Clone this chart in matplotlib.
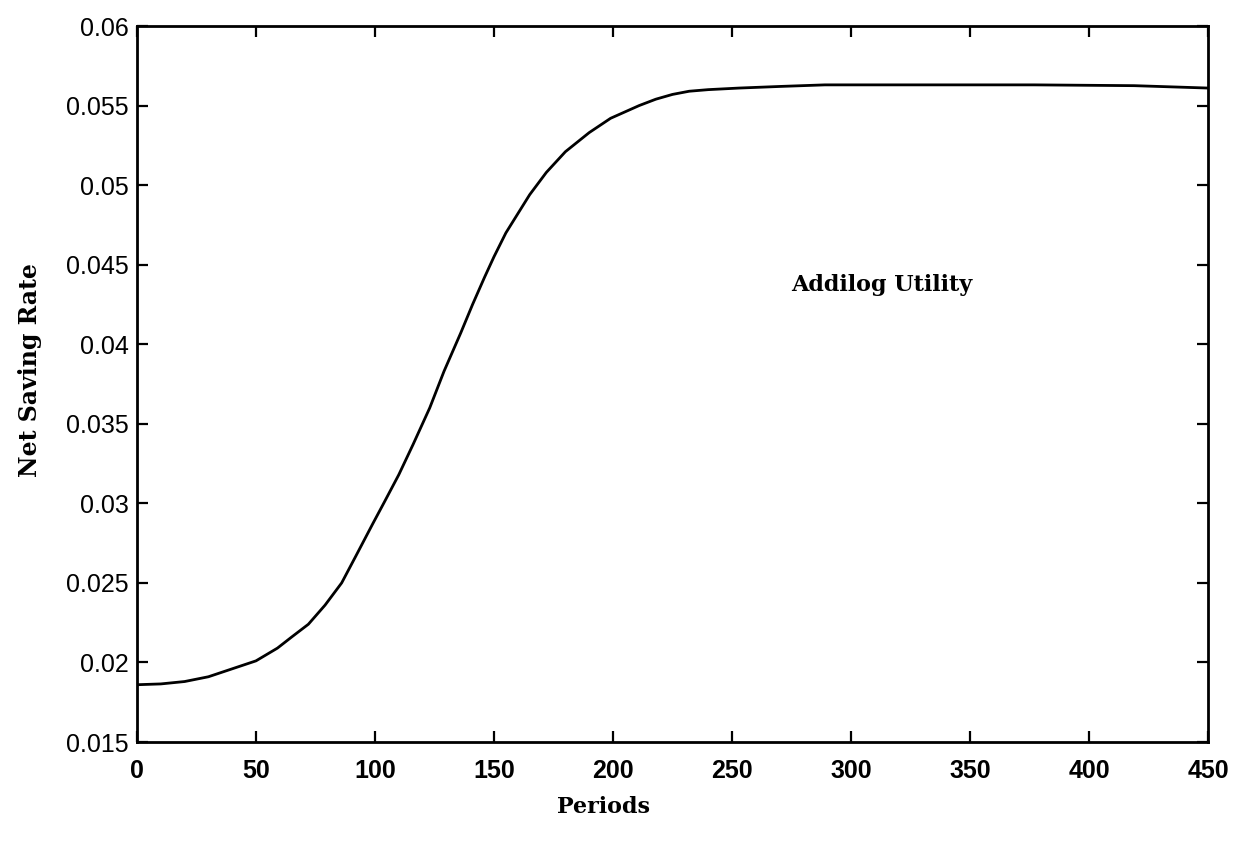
import matplotlib
matplotlib.use("Agg")
import matplotlib.pyplot as plt

# Data
periods = [0, 10, 20, 30, 38, 50, 59, 65, 72, 79, 86, 92, 99, 104, 110, 116,
           123, 129, 136, 141, 146, 150, 155, 160, 165, 172, 180, 190, 199,
           205, 211, 218, 225, 232, 240, 253, 270, 289, 339, 377, 419, 450]
saving_rate = [0.0186, 0.01865, 0.0188, 0.0191, 0.0195, 0.0201, 0.0209, 0.0216,
               0.0224, 0.0236, 0.0250, 0.0267, 0.0287, 0.0301, 0.0318, 0.0337,
               0.0360, 0.0383, 0.0407, 0.0425, 0.0442, 0.0455, 0.0470, 0.0482,
               0.0494, 0.0508, 0.0521, 0.0533, 0.0542, 0.0546, 0.0550, 0.0554,
               0.0557, 0.0559, 0.0560, 0.0561, 0.0562, 0.0563, 0.0563, 0.0563,
               0.05625, 0.0561]

x_ticks = [0, 50, 100, 150, 200, 250, 300, 350, 400, 450]
y_ticks = [0.015, 0.02, 0.025, 0.03, 0.035, 0.04, 0.045, 0.05, 0.055, 0.06]
y_tick_labels = ["0.015", "0.02", "0.025", "0.03", "0.035", "0.04",
                 "0.045", "0.05", "0.055", "0.06"]

fig = plt.figure(figsize=(12.41, 8.42), dpi=100)
W, H = 1241, 842
left, right, top, bottom = 137, 1208, 26, 742
ax = fig.add_axes([left / W, 1 - bottom / H, (right - left) / W, (bottom - top) / H])

ax.plot(periods, saving_rate, color="black", linewidth=2.0)

ax.set_xlim(0, 450)
ax.set_ylim(0.015, 0.06)
ax.set_xticks(x_ticks)
ax.set_xticklabels([str(v) for v in x_ticks])
ax.set_yticks(y_ticks)
ax.set_yticklabels(y_tick_labels)

for s in ax.spines.values():
    s.set_linewidth(2.0)

ax.tick_params(axis="both", direction="in", length=8, width=1.6,
               top=True, right=True)
ax.tick_params(axis="x", pad=12, labelsize=18)
ax.tick_params(axis="y", pad=6, labelsize=18)
for lab in ax.get_xticklabels():
    lab.set_family(["Liberation Sans", "DejaVu Sans"])
    lab.set_fontweight("semibold")
for lab in ax.get_yticklabels():
    lab.set_family(["Liberation Sans", "DejaVu Sans"])

ax.set_xlabel("Periods", fontsize=16, family="DejaVu Serif", fontweight="bold",
              labelpad=14)
ax.xaxis.set_label_coords(0.436, -0.075)
ax.set_ylabel("Net Saving Rate", fontsize=17, family="DejaVu Serif",
              fontweight="bold", labelpad=14)
ax.yaxis.set_label_coords(-0.089, 0.52)

ax.text(275, 0.0437, "Addilog Utility", fontsize=16, family="DejaVu Serif",
        fontweight="bold", ha="left", va="center")

fig.savefig("out.png", dpi=100, facecolor="white")
